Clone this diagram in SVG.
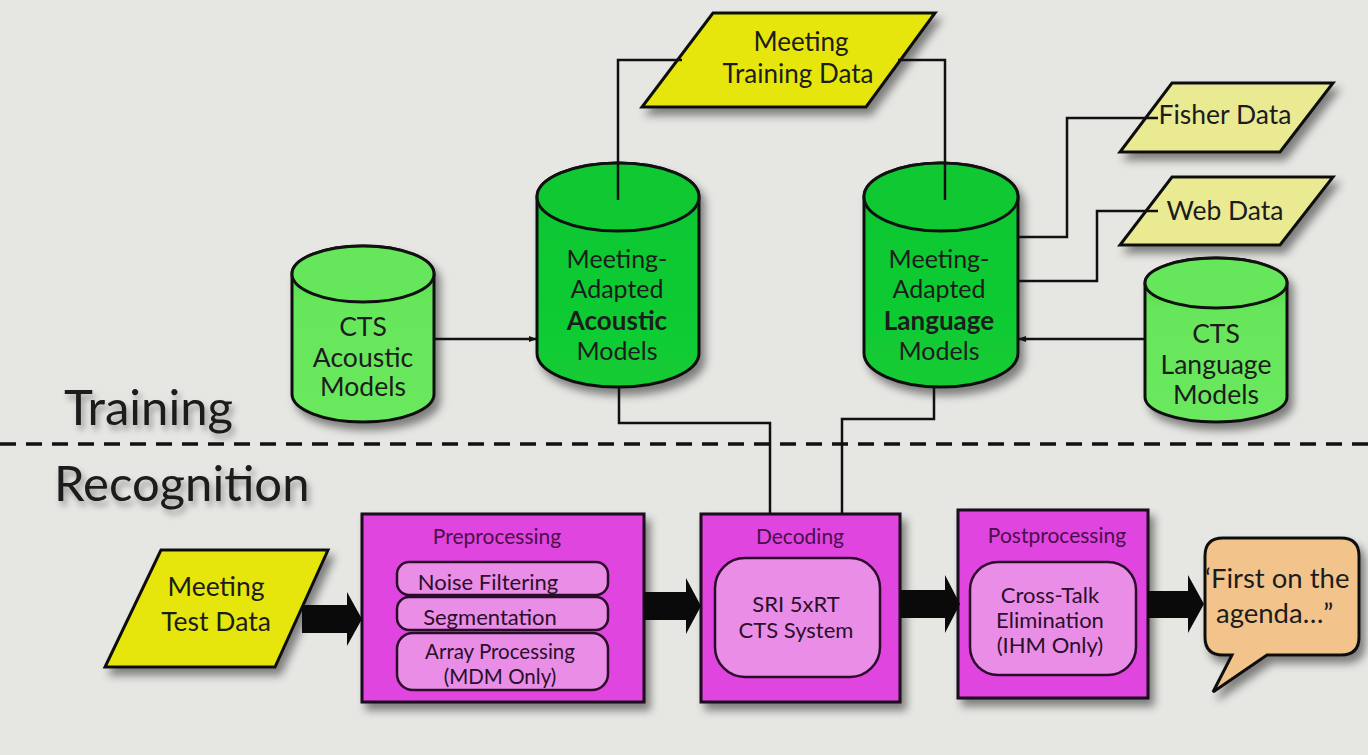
<svg xmlns="http://www.w3.org/2000/svg" width="1368" height="755" viewBox="0 0 1368 755">
<style>
  text { font-family: Lato, "Liberation Sans", sans-serif; fill: #1c1c1c; }
  .big { font-size: 49px; fill: #1a1a1a; }
  .lbl { font-size: 25px; text-anchor: middle; }
  .lbl2 { font-size: 26.5px; text-anchor: middle; }
  .bold { font-weight: bold; }
  .sm { font-size: 22px; text-anchor: middle; fill: #2a0f2a; }
  .ttl { font-size: 21px; text-anchor: middle; fill: #4a0f4a; }
  .edge { fill: none; stroke: #111; stroke-width: 2.5; }
  .shape { stroke: #111; stroke-width: 3; }
  .yel { fill: #e6e60c; }
  .pale { fill: #eaea92; }
  .dg { fill: #10c832; }
  .lg { fill: #66e65a; }
  .mag { fill: #e044e0; stroke: #1a081a; stroke-width: 3; }
  .inner { fill: #e98de6; stroke: #2a0c2a; stroke-width: 2.5; }
  .thick { fill: #0a0a0a; }
</style>
<defs>
  <filter id="sh" x="-20%" y="-20%" width="150%" height="150%">
    <feDropShadow dx="5" dy="7" stdDeviation="4" flood-color="#000" flood-opacity="0.45"/>
  </filter>
  <filter id="tsh" x="-10%" y="-30%" width="130%" height="180%">
    <feDropShadow dx="3" dy="5" stdDeviation="3" flood-color="#000" flood-opacity="0.35"/>
  </filter>
  <marker id="ah" markerWidth="8" markerHeight="8" refX="7" refY="4" orient="auto" markerUnits="userSpaceOnUse">
    <path d="M0,1 L8,4 L0,7 Z" fill="#111"/>
  </marker>
  <linearGradient id="gd" x1="0" y1="0" x2="0" y2="1">
    <stop offset="0" stop-color="#0aa82a"/>
    <stop offset="0.25" stop-color="#10c832"/>
    <stop offset="1" stop-color="#12cc34"/>
  </linearGradient>
  <linearGradient id="gl" x1="0" y1="0" x2="0" y2="1">
    <stop offset="0" stop-color="#4ec84a"/>
    <stop offset="0.3" stop-color="#66e65a"/>
    <stop offset="1" stop-color="#6ae85e"/>
  </linearGradient>
</defs>

<rect width="1368" height="755" fill="#e6e7e3"/>

<g id="section-labels">
  <text class="big" x="64" y="425" filter="url(#tsh)">Training</text>
  <text class="big" x="54" y="501" filter="url(#tsh)">Recognition</text>
  <line x1="0" y1="444" x2="1368" y2="444" stroke="#111" stroke-width="3.5" stroke-dasharray="16,10"/>
</g>

<g id="meeting-training-data">
  <polygon class="shape yel" points="713,13 935,13 866,107 642,107" filter="url(#sh)"/>
  <text class="lbl" x="801" y="51" style="font-size:26px">Meeting</text>
  <text class="lbl" x="798" y="83" style="font-size:26px">Training Data</text>
</g>

<g id="fisher-data">
  <polygon class="shape pale" points="1172,83 1333,83 1280,152 1120,152" filter="url(#sh)"/>
  <text class="lbl2" x="1225" y="124">Fisher Data</text>
</g>

<g id="web-data">
  <polygon class="shape pale" points="1172,177 1333,177 1280,245 1120,245" filter="url(#sh)"/>
  <text class="lbl2" x="1225" y="220">Web Data</text>
</g>

<g id="cts-acoustic-models">
  <path class="shape" fill="url(#gl)" filter="url(#sh)" d="M292,274 V394 A71,28 0 0 0 434,394 V274 A71,28 0 0 0 292,274 Z"/>
  <ellipse class="shape lg" cx="363" cy="274" rx="71" ry="28"/>
  <text class="lbl2" x="363" y="336">CTS</text>
  <text class="lbl2" x="363" y="367">Acoustic</text>
  <text class="lbl2" x="363" y="396">Models</text>
</g>

<g id="meeting-adapted-acoustic-models">
  <path class="shape" fill="url(#gd)" filter="url(#sh)" d="M537,197 V353 A81,34 0 0 0 699,353 V197 A81,34 0 0 0 537,197 Z"/>
  <ellipse class="shape dg" cx="618" cy="197" rx="81" ry="34"/>
  <text class="lbl" x="617" y="268">Meeting-</text>
  <text class="lbl" x="617" y="298">Adapted</text>
  <text class="lbl bold" x="617" y="330" style="font-size:26px">Acoustic</text>
  <text class="lbl" x="617" y="360">Models</text>
</g>

<g id="meeting-adapted-language-models">
  <path class="shape" fill="url(#gd)" filter="url(#sh)" d="M864,197 V353 A77,34 0 0 0 1018,353 V197 A77,34 0 0 0 864,197 Z"/>
  <ellipse class="shape dg" cx="941" cy="197" rx="77" ry="34"/>
  <text class="lbl" x="939" y="268">Meeting-</text>
  <text class="lbl" x="939" y="298">Adapted</text>
  <text class="lbl bold" x="939" y="330" style="font-size:26px">Language</text>
  <text class="lbl" x="939" y="360">Models</text>
</g>

<g id="cts-language-models">
  <path class="shape" fill="url(#gl)" filter="url(#sh)" d="M1145,283 V397 A71,25 0 0 0 1287,397 V283 A71,25 0 0 0 1145,283 Z"/>
  <ellipse class="shape lg" cx="1216" cy="283" rx="71" ry="25"/>
  <text class="lbl2" x="1216" y="343">CTS</text>
  <text class="lbl2" x="1216" y="374">Language</text>
  <text class="lbl2" x="1216" y="404">Models</text>
</g>

<g id="meeting-test-data">
  <polygon class="shape yel" points="161,550 328,550 275,667 105,667" filter="url(#sh)"/>
  <text class="lbl2" x="216" y="596">Meeting</text>
  <text class="lbl2" x="216" y="631">Test Data</text>
</g>

<g id="preprocessing">
  <rect class="mag" x="362" y="514" width="282" height="188" filter="url(#sh)"/>
  <text class="ttl" x="497" y="544">Preprocessing</text>
  <rect class="inner" x="397" y="562" width="211" height="33" rx="12"/>
  <text class="sm" x="488" y="590">Noise Filtering</text>
  <rect class="inner" x="397" y="597" width="211" height="33" rx="12"/>
  <text class="sm" x="490" y="625">Segmentation</text>
  <rect class="inner" x="397" y="633" width="211" height="57" rx="16"/>
  <text class="sm" x="500" y="659" style="font-size:20.5px">Array Processing</text>
  <text class="sm" x="500" y="684" style="font-size:20.5px">(MDM Only)</text>
</g>

<g id="decoding">
  <rect class="mag" x="701" y="514" width="199" height="188" filter="url(#sh)"/>
  <text class="ttl" x="800" y="544">Decoding</text>
  <rect class="inner" x="715" y="558" width="165" height="119" rx="30"/>
  <text class="sm" x="796" y="612">SRI 5xRT</text>
  <text class="sm" x="796" y="638">CTS System</text>
</g>

<g id="postprocessing">
  <rect class="mag" x="958" y="510" width="190" height="188" filter="url(#sh)"/>
  <text class="ttl" x="1057" y="543">Postprocessing</text>
  <rect class="inner" x="970" y="562" width="166" height="113" rx="28"/>
  <text class="sm" x="1050" y="603">Cross-Talk</text>
  <text class="sm" x="1050" y="628">Elimination</text>
  <text class="sm" x="1050" y="653">(IHM Only)</text>
</g>

<g id="output-bubble">
  <path class="shape" fill="#f2c48c" filter="url(#sh)" d="M1223,538 H1341 Q1359,538 1359,556 V637 Q1359,655 1341,655 H1267 L1213,692 L1232,655 H1223 Q1205,655 1205,637 V556 Q1205,538 1223,538 Z"/>
  <text x="1205" y="588" style="font-size:27.5px">‘First on the</text>
  <text x="1216" y="623" style="font-size:27.5px">agenda…”</text>
</g>

<g id="connectors">
  <polyline class="edge" points="682,60 618,60 618,200"/>
  <polyline class="edge" points="898,60 945,60 945,200"/>
  <polyline class="edge" points="1018,237 1067,237 1067,118 1158,118"/>
  <polyline class="edge" points="1018,281 1097,281 1097,211 1158,211"/>
  <line class="edge" x1="434" y1="339" x2="536" y2="339" marker-end="url(#ah)"/>
  <line class="edge" x1="1145" y1="339" x2="1019" y2="339" marker-end="url(#ah)"/>
  <polyline class="edge" points="619,387 619,423 770,423 770,514"/>
  <polyline class="edge" points="934,387 934,419 842,419 842,514"/>
  <polygon class="thick" points="302,605 347,605 347,592 362,619 347,646 347,633 302,633"/>
  <polygon class="thick" points="644,592 686,592 686,578 701,606 686,634 686,620 644,620"/>
  <polygon class="thick" points="900,590 945,590 945,575 960,604 945,633 945,618 900,618"/>
  <polygon class="thick" points="1147,591 1188,591 1188,575 1204,604 1188,633 1188,618 1147,618"/>
</g>
</svg>
